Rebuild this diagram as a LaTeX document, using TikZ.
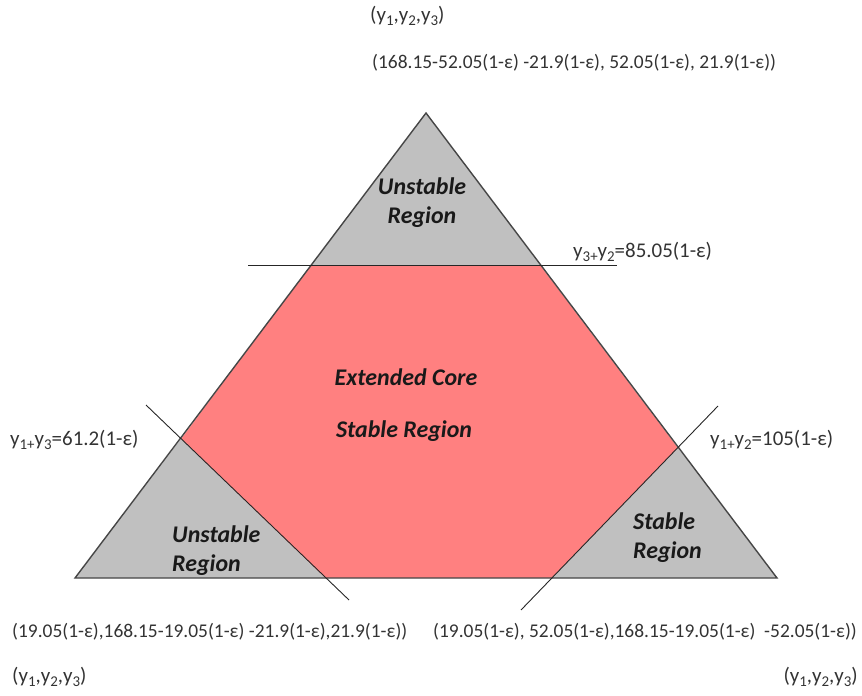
\documentclass[tikz,border=0pt]{standalone}
\usepackage{fontspec}
\setmainfont{Carlito}
\definecolor{corepink}{RGB}{255,128,128}
\definecolor{regiongray}{RGB}{192,192,192}
\definecolor{edgegray}{RGB}{70,70,70}
\newcommand{\mysub}[1]{\raisebox{-0.22em}{\fontsize{15}{15}\selectfont #1}}
\begin{document}
\begin{tikzpicture}[x=1bp,y=-1bp,
  lbl/.style={inner sep=0pt,text=black!80,font=\fontsize{19.5}{22}\selectfont},
  eqlbl/.style={inner sep=0pt,text=black!80,font=\fontsize{21}{24}\selectfont},
  reg/.style={inner sep=0pt,text=black!90,align=left,font=\fontsize{24}{29}\selectfont\bfseries\itshape},
  cutline/.style={draw=black!85,line width=0.9bp},
  edge/.style={draw=edgegray,line width=1.4bp,line join=miter}]
\useasboundingbox (0,0) rectangle (862,696);
% triangle corners
\coordinate (A) at (426,113);
\coordinate (BL) at (75,578);
\coordinate (BR) at (777,578);
% intersections
\coordinate (H1) at (311,265);
\coordinate (H2) at (540,265);
\coordinate (L1) at (181,439);
\coordinate (L2) at (325,578);
\coordinate (R1) at (678,448);
\coordinate (R2) at (552,578);
% line ends
\coordinate (HA) at (248,265);
\coordinate (HB) at (617,265);
\coordinate (LA) at (146,405);
\coordinate (LB) at (349,600);
\coordinate (RA) at (718,406);
\coordinate (RB) at (521,610);
% fills
\fill[corepink] (H1) -- (H2) -- (R1) -- (R2) -- (L2) -- (L1) -- cycle;
\fill[regiongray] (A) -- (H2) -- (H1) -- cycle;
\fill[regiongray] (BL) -- (L1) -- (L2) -- cycle;
\fill[regiongray] (BR) -- (R2) -- (R1) -- cycle;
% outline
\draw[edge] (A) -- (BL) -- (BR) -- cycle;
% cut lines
\draw[cutline] (HA) -- (HB);
\draw[cutline] (LA) -- (LB);
\draw[cutline] (RA) -- (RB);
% region labels
\node[reg,anchor=center,align=center] (topreg) at (422,203) {Unstable\\Region};
\node[reg,anchor=west] (leftreg) at (172,551) {Unstable\\Region};
\node[reg,anchor=west] (rightreg) at (633,538) {Stable\\Region};
\node[reg,anchor=center] (core1) at (406,377) {Extended Core};
\node[reg,anchor=center] (core2) at (404,431) {Stable Region};
% line labels
\node[eqlbl,anchor=west] (eqtop) at (573,252) {y\mysub{3}\mysub{+}y\mysub{2}=85.05(1-ε)};
\node[eqlbl,anchor=west] (eqleft) at (10,440) {y\mysub{1}\mysub{+}y\mysub{3}=61.2(1-ε)};
\node[eqlbl,anchor=west] (eqright) at (710,440) {y\mysub{1}\mysub{+}y\mysub{2}=105(1-ε)};
% vertex labels
\node[eqlbl,anchor=west] (ytop) at (370,16) {(y\mysub{1},y\mysub{2},y\mysub{3})};
\node[lbl,anchor=west] (ptop) at (372,63) {(168.15-52.05(1-ε) -21.9(1-ε), 52.05(1-ε), 21.9(1-ε))};
\node[lbl,anchor=west] (pleft) at (12,632) {(19.05(1-ε),168.15-19.05(1-ε) -21.9(1-ε),21.9(1-ε))};
\node[eqlbl,anchor=west] (yleft) at (12,677) {(y\mysub{1},y\mysub{2},y\mysub{3})};
\node[lbl,anchor=west] (pright) at (433,632) {(19.05(1-ε), 52.05(1-ε),168.15-19.05(1-ε) \ -52.05(1-ε))};
\node[eqlbl,anchor=east] (yright) at (858,677) {(y\mysub{1},y\mysub{2},y\mysub{3})};
\end{tikzpicture}
\end{document}
